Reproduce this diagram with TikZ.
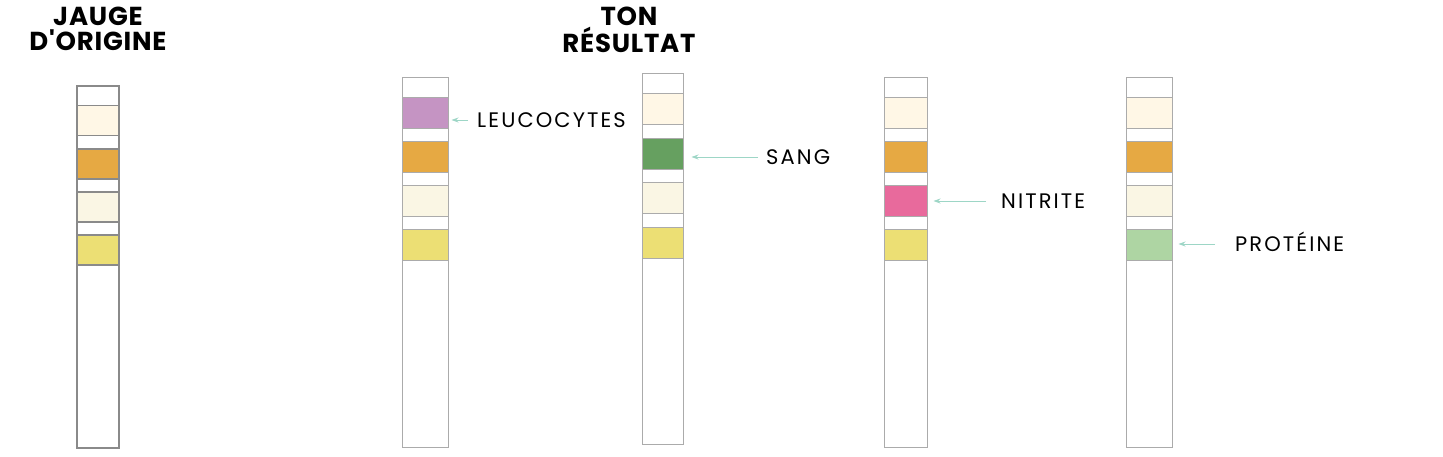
\documentclass[tikz,border=0pt]{standalone}
\usepackage{fontspec}
\setmainfont{Poppins}
\usetikzlibrary{arrows.meta, positioning}

\definecolor{padcream}{HTML}{FFF7E6}
\definecolor{padorange}{HTML}{E6A943}
\definecolor{padpale}{HTML}{FAF6E4}
\definecolor{padyellow}{HTML}{ECDF74}
\definecolor{padpurple}{HTML}{C594C3}
\definecolor{padgreen}{HTML}{66A060}
\definecolor{padpink}{HTML}{E86A9C}
\definecolor{padlgreen}{HTML}{AED5A3}
\definecolor{pointcol}{HTML}{9DD6C6}
\definecolor{edgelight}{HTML}{ABABAB}
\definecolor{edgedark}{HTML}{8A8A8A}

\tikzset{
  stripline/.style={draw=edgelight, line width=1pt},
  origline/.style={draw=edgedark, line width=2pt},
  band/.style={draw=edgelight, line width=1pt, inner sep=0pt, minimum height=31pt},
  origband/.style={draw=edgedark, line width=1.6pt, inner sep=0pt, minimum height=30pt, minimum width=42pt},
  heading/.style={font=\bfseries\fontsize{26}{25}\selectfont\addfontfeatures{Ligatures=TeXOff, LetterSpace=3}, align=center, inner sep=0pt, anchor=north},
  padlabel/.style={font=\fontsize{21}{21}\selectfont\addfontfeatures{LetterSpace=10}, inner sep=0pt, anchor=west, text height=14.5pt, text depth=0pt},
  pointer/.style={draw=pointcol, line width=1pt, -{Stealth[length=7pt, width=5pt]}}
}

\begin{document}
\begin{tikzpicture}[x=1pt, y=-1pt]
  \useasboundingbox[fill=white] (0,0) rectangle (1443,456);

  % titles
  \node[heading] (hdorig) at (98,7) {JAUGE\\D'ORIGINE};
  \node[heading] (hdres) at (629,7) {TON\\RÉSULTAT};

  % original strip
  \draw[origline] (77,86) rectangle (119,448);
  \foreach \c [count=\i] in {padcream, padorange, padpale, padyellow}
    \node[origband, fill=\c] (o\i) at (98,{120.5+43.2*(\i-1)}) {};

  % strip 1: leucocytes
  \draw[stripline] (402,77) rectangle (448,447);
  \foreach \c [count=\i] in {padpurple, padorange, padpale, padyellow}
    \node[band, minimum width=46pt, fill=\c] (a\i) at (425,{112.5+44*(\i-1)}) {};

  % strip 2: sang
  \draw[stripline] (642,73) rectangle (683,444);
  \foreach \c [count=\i] in {padcream, padgreen, padpale, padyellow}
    \node[band, minimum width=41pt, fill=\c] (b\i) at (662.5,{109+44.7*(\i-1)}) {};

  % strip 3: nitrite
  \draw[stripline] (884,77) rectangle (927,447);
  \foreach \c [count=\i] in {padcream, padorange, padpink, padyellow}
    \node[band, minimum width=43pt, fill=\c] (c\i) at (905.5,{112.5+44*(\i-1)}) {};

  % strip 4: proteine
  \draw[stripline] (1126,77) rectangle (1172,447);
  \foreach \c [count=\i] in {padcream, padorange, padpale, padlgreen}
    \node[band, minimum width=46pt, fill=\c] (d\i) at (1149,{112.5+44*(\i-1)}) {};

  % labels and pointers
  \node[padlabel] (leuco) at (477,120) {LEUCOCYTES};
  \node[padlabel] (sang) at (766,157) {SANG};
  \node[padlabel] (nitr) at (1001,201) {NITRITE};
  \node[padlabel] (prot) at (1235,244) {PROTÉINE};

  \draw[pointer, shorten <=9pt, shorten >=3pt] (leuco.west) -- (leuco.west -| a1.east);
  \draw[pointer, shorten <=8pt, shorten >=8pt] (sang.west) -- (sang.west -| b2.east);
  \draw[pointer, shorten <=15pt, shorten >=6pt] (nitr.west) -- (nitr.west -| c3.east);
  \draw[pointer, shorten <=20pt, shorten >=6pt] (prot.west) -- (prot.west -| d4.east);
\end{tikzpicture}
\end{document}
